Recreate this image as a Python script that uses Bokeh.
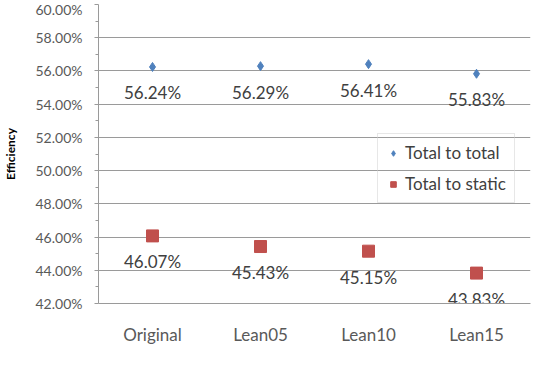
from bokeh.plotting import figure
from bokeh.models import FactorRange, FixedTicker, PrintfTickFormatter, ColumnDataSource, Legend, LegendItem
from bokeh.embed import file_html
from bokeh.resources import INLINE
from bokeh.core.properties import value

categories = ["Original", "Lean05", "Lean10", "Lean15"]
total_to_total = [56.24, 56.29, 56.41, 55.83]
total_to_static = [46.07, 45.43, 45.15, 43.83]
y_ticks = [42, 44, 46, 48, 50, 52, 54, 56, 58, 60]
y_minor = [43, 45, 47, 49, 51, 53, 55, 57, 59]

FONT = "Lato"
GRID = "#9a9a9a"

p = figure(width=535, height=383, x_range=FactorRange(*categories, range_padding=0),
           y_range=(42, 60), output_backend="svg", toolbar_location=None,
           min_border_left=98, min_border_right=5, min_border_top=4, min_border_bottom=80)
p.outline_line_color = None
p.background_fill_color = "white"
p.border_fill_color = "white"

src_a = ColumnDataSource(dict(x=categories, y=total_to_total,
                              t=["%.2f%%" % v for v in total_to_total]))
src_b = ColumnDataSource(dict(x=categories, y=total_to_static,
                              t=["%.2f%%" % v for v in total_to_static]))

r_a = p.scatter("x", "y", source=src_a, marker="diamond", size=9,
                fill_color="#4F81BD", line_color="#4F81BD")
r_b = p.scatter("x", "y", source=src_b, marker="square", size=12,
                fill_color="#C0504D", line_color="#C0504D")

for src in (src_a, src_b):
    p.text("x", "y", text="t", source=src, y_offset=26, text_align="center",
           text_baseline="middle", text_font=value(FONT), text_font_size="17px",
           text_color="#404040")

p.yaxis.ticker = FixedTicker(ticks=y_ticks, minor_ticks=y_minor)
p.yaxis.formatter = PrintfTickFormatter(format="%.2f%%")
p.yaxis.axis_label = "Efficiency"
p.yaxis.axis_label_text_font = FONT
p.yaxis.axis_label_text_font_style = "bold"
p.yaxis.axis_label_text_font_size = "12px"
p.yaxis.axis_label_text_color = "black"
p.yaxis.axis_label_standoff = 14
p.yaxis.major_label_text_font = FONT
p.yaxis.major_label_text_font_size = "14px"
p.yaxis.major_label_text_color = "#595959"
p.yaxis.major_label_standoff = 12
p.yaxis.axis_line_color = GRID
p.yaxis.major_tick_line_color = GRID
p.yaxis.minor_tick_line_color = GRID
p.yaxis.major_tick_out = 4
p.yaxis.major_tick_in = 0
p.yaxis.minor_tick_out = 3
p.yaxis.minor_tick_in = 0

p.xaxis.major_label_text_font = FONT
p.xaxis.major_label_text_font_size = "17px"
p.xaxis.major_label_text_color = "#595959"
p.xaxis.major_label_standoff = 14
p.xaxis.axis_line_color = GRID
p.xaxis.major_tick_line_color = None
p.xaxis.minor_tick_line_color = None

p.xgrid.grid_line_color = None
p.ygrid.grid_line_color = GRID
p.ygrid.ticker = FixedTicker(ticks=y_ticks)

legend = Legend(items=[LegendItem(label="Total to total", renderers=[r_a]),
                       LegendItem(label="Total to static", renderers=[r_b])],
                location=(279, 100))
legend.label_text_font = FONT
legend.label_text_font_size = "17px"
legend.label_text_color = "#404040"
legend.border_line_color = "#d0d0d0"
legend.background_fill_alpha = 0
legend.padding = 8
legend.spacing = 10
legend.label_height = 20
legend.glyph_height = 20
legend.glyph_width = 14
legend.label_standoff = 5
legend.margin = 0
p.add_layout(legend, "center")

open("out.html", "w").write(file_html(p, INLINE))
